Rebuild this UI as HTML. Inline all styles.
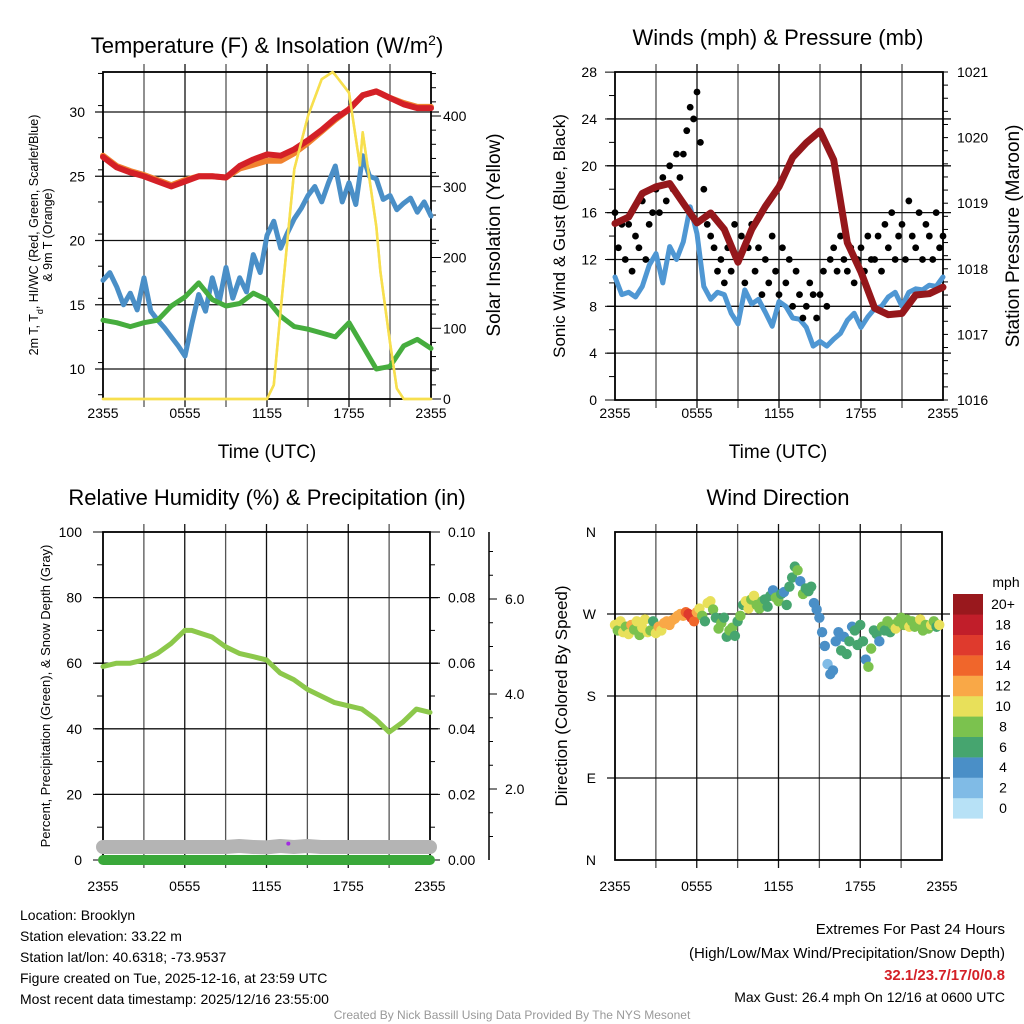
<!DOCTYPE html>
<html><head><meta charset="utf-8"><style>
html,body{margin:0;padding:0;background:#fff;}
svg{display:block;font-family:"Liberation Sans",Arial,sans-serif;}
</style></head><body>
<svg id="c" width="1024" height="1024" viewBox="0 0 1024 1024" xmlns="http://www.w3.org/2000/svg"></svg>
<script>
// ---------- data ----------
const hourTicks = ["2355","0555","1155","1755","2355"];
const tempRed = [26.5,25.7,25.3,25.0,24.6,24.2,24.6,25.0,25.0,24.9,25.8,26.3,26.7,26.6,27.1,27.8,28.6,29.5,30.2,31.3,31.6,31.1,30.6,30.3,30.3];
const temp9mOrange = [26.6,25.8,25.4,25.1,24.7,24.3,24.7,25.0,25.0,24.9,25.6,25.9,26.2,26.2,26.8,27.6,28.5,29.4,30.2,31.3,31.6,31.1,30.7,30.4,30.4];
const dewBlue = [16.9,17.5,16.4,15.0,15.9,14.6,17.1,14.5,13.8,13.2,12.5,11.8,11.0,13.5,15.8,14.5,17.1,15.2,17.9,15.5,17.1,16.0,18.9,17.5,20.4,21.5,19.4,20.6,21.7,22.5,23.5,24.2,23.0,24.5,25.8,23.0,24.5,22.8,26.6,25.0,24.8,23.2,23.5,22.4,22.9,23.3,22.2,23.0,21.9];
const hiwcGreen = [13.8,13.6,13.3,13.6,13.8,14.9,15.6,16.7,15.4,14.9,15.1,15.9,15.4,14.1,13.3,13.1,12.8,12.5,13.6,11.8,10.0,10.2,11.8,12.3,11.6];
const solarHours = [0,12,12.5,13,14,15,16,16.8,17,18,18.8,19,20,20.3,21,21.5,22,24];
const solarVals =  [0,0,20,126,325,400,452,462,458,433,330,377,244,180,80,15,0,0];
const windBlue = [10.5,9.0,9.2,8.8,9.7,11.5,12.5,10.0,13.1,12.0,13.5,16.5,14.2,9.7,8.6,9.2,9.0,7.4,6.5,9.4,8.2,8.6,7.5,6.3,8.4,8.0,7.0,6.9,6.2,4.6,5.0,4.6,5.2,5.7,6.8,7.4,6.2,7.1,7.8,8.0,8.8,9.2,8.0,9.2,9.5,9.4,9.8,9.7,10.5];
const gustBlack = [16,13,15,12,15,11,14,13,17,12,15,16,18,16,19,17,20,18,21,19,21,23,25,24,26.3,22,18,15,14,13,11,12,10,13,11,15,12,14,10,13,15,11,13,9,12,10,14,11,9,13,10,12,8,11,9,7,8,10,9,7,9,11,8,12,13,11,14,12,11,13,10,12,13,11,14,12,12,14,11,15,13,16,12,14,15,12,17,14,13,16,12,15,14,12,16,13,14];
const pressure = [1018.69,1018.79,1019.15,1019.25,1019.3,1019.0,1018.7,1018.85,1018.6,1018.1,1018.6,1018.95,1019.25,1019.7,1019.92,1020.1,1019.66,1018.4,1017.95,1017.4,1017.3,1017.32,1017.6,1017.62,1017.72];
const rh = [59,60,60,61,63,66,70,70,68,65,63,62,61,57,55,52,50,48,47,46,43,39,42,46,45];
const rhHours = [0,1,2,3,4,5,6,6.5,8,9,10,11,12,13,14,15,16,17,18,19,20,21,22,23,24];
const precip = [0,0,0,0,0,0,0,0,0,0,0,0,0,0,0,0,0,0,0,0,0,0,0,0,0];
const snowDepth = [0.78,0.78,0.78,0.78,0.78,0.78,0.78,0.78,0.78,0.78,0.8,0.78,0.77,0.8,0.78,0.8,0.78,0.78,0.78,0.78,0.78,0.78,0.78,0.78,0.78];
const markerHour = [13.6];
const markerVal = [5];
const dirHours = [0.0,0.2,0.4,0.6,0.8,1.0,1.2,1.4,1.6,1.8,2.0,2.2,2.4,2.6,2.8,3.0,3.2,3.4,3.6,3.8,4.0,4.2,4.4,4.6,4.8,5.0,5.2,5.4,5.6,5.8,6.0,6.2,6.4,6.6,6.8,7.0,7.2,7.4,7.6,7.8,8.0,8.2,8.4,8.6,8.8,9.0,9.2,9.4,9.6,9.8,10.0,10.2,10.4,10.6,10.8,11.0,11.2,11.4,11.6,11.8,12.0,12.2,12.4,12.6,12.8,13.0,13.2,13.4,13.6,13.8,14.0,14.2,14.4,14.6,14.8,15.0,15.2,15.4,15.6,15.8,16.0,16.2,16.4,16.6,16.8,17.0,17.2,17.4,17.6,17.8,18.0,18.2,18.4,18.6,18.8,19.0,19.2,19.4,19.6,19.8,20.0,20.2,20.4,20.6,20.8,21.0,21.2,21.4,21.6,21.8,22.0,22.2,22.4,22.6,22.8,23.0,23.2,23.4,23.6,23.8];
const dirDeg = [258,252,262,250,256,248,258,253,262,247,255,264,250,252,262,249,256,252,260,262,258,263,265,268,270,268,272,270,266,262,272,276,268,262,282,284,275,266,254,260,266,245,252,255,246,262,268,280,284,276,286,290,280,276,284,286,278,290,296,288,284,292,294,280,300,310,322,318,306,292,298,295,300,282,275,266,250,235,215,204,208,240,250,230,245,226,240,256,252,236,258,240,220,212,232,252,248,240,256,252,262,250,258,254,262,266,258,264,256,262,256,260,264,252,258,254,258,262,256,258];
const dirSpeed = [10,9,10,11,8,10,12,8,10,9,11,10,10,8,7,10,12,11,13,12,12,13,12,13,12,13,14,16,17,15,12,11,8,7,10,10,9,7,8,8,6,6,8,8,7,7,8,7,10,10,8,10,8,8,9,7,6,6,5,8,8,7,5,6,6,6,7,8,5,8,6,7,6,4,4,5,4,4,3,4,4,4,5,6,5,6,6,4,6,6,6,7,4,8,8,7,6,4,8,6,8,7,8,10,9,8,9,8,10,8,8,9,10,8,9,8,11,8,7,10];
const speedColors = ["#b7e1f6","#80bbe6","#4a8fc7","#46a56f","#7bc24e","#e8e05a","#f9a847","#f0662b","#df3a2d","#c11e2a","#99181d"];
const speedLabels = ["0","2","4","6","8","10","12","14","16","18","20+"];

// ---------- helpers ----------
const svg = document.getElementById('c');
const NS = "http://www.w3.org/2000/svg";
function mk(tag, attrs, parent){const e=document.createElementNS(NS,tag);for(const k in attrs)e.setAttribute(k,attrs[k]);(parent||svg).appendChild(e);return e;}
function txt(x,y,s,size,anchor,extra){const e=mk('text',Object.assign({x:x,y:y,'font-size':size,'text-anchor':anchor||'middle',fill:'#000'},extra||{}));e.textContent=s;return e;}
function hourIdx(n,step){const a=[];for(let i=0;i<n;i++)a.push(i*step);return a;}

function panelFrame(x0,x1,y0,y1,yTicks,yMap,name){
  const g=mk('g',{});
  
  
  for(let h=3;h<24;h+=3){const x=x0+(x1-x0)*h/24;mk('line',{x1:x,y1:y0-8,x2:x,y2:y1+8,stroke:(h%6? '#555':'#111'),'stroke-width':1.3},g);}
  yTicks.forEach(v=>{const y=yMap(v);mk('line',{x1:x0-8,y1:y,x2:x1+8,y2:y,stroke:'#111','stroke-width':1.3},g);});
  mk('rect',{x:x0,y:y0,width:x1-x0,height:y1-y0,fill:'none',stroke:'#000','stroke-width':1.8},g);
  return g;
}
function xLabels(x0,x1,y){hourTicks.forEach((t,i)=>{const l=txt(x0+(x1-x0)*i/4,y,t,14);});}
function polyline(hours,vals,xm,ym,color,w,name){
  const pts=hours.map((h,i)=>xm(h).toFixed(1)+','+ym(vals[i]).toFixed(1)).join(' ');
  const p=mk('polyline',{points:pts,fill:'none',stroke:color,'stroke-width':w,'stroke-linejoin':'round','stroke-linecap':'round'});
  
  
  return p;
}

// ================= Panel 1 =================
const p1x=h=>103+328*h/24, p1y=v=>112+(30-v)*12.85, p1r=v=>399-v*0.7075;
panelFrame(103,431,72,399,[10,15,20,25,30],p1y,'temperature-panel');
for(let v=8;v<=33;v+=2.5){mk('line',{x1:103,y1:p1y(v),x2:98,y2:p1y(v),stroke:'#000'});}
for(let v=0;v<=460;v+=20){mk('line',{x1:431,y1:p1r(v),x2:(v%100?436:441),y2:p1r(v),stroke:'#000'});}
[10,15,20,25,30].forEach(v=>txt(85,p1y(v)+5,String(v),14,'end'));
[0,100,200,300,400].forEach(v=>txt(443,p1r(v)+5,String(v),14,'start'));
polyline(solarHours,solarVals,p1x,p1r,'#f7df4e',2.5,'solar-insolation-line');
polyline(hourIdx(25,1),temp9mOrange,p1x,p1y,'#f0822f',6,'9m-temp-line');
polyline(hourIdx(25,1),tempRed,p1x,p1y,'#d42027',6,'2m-temp-line');
polyline(hourIdx(49,0.5),dewBlue,p1x,p1y,'#4a8fc7',5,'dewpoint-line');
polyline(hourIdx(25,1),hiwcGreen,p1x,p1y,'#46ad3e',5,'heat-index-windchill-line');
polyline(solarHours,solarVals,p1x,p1r,'#f7df4e',2.5,'solar-insolation-line-top');
xLabels(103,431,418);
let t=txt(267,53,'',22);t.innerHTML='Temperature (F) &amp; Insolation (W/m<tspan baseline-shift="super" font-size="14">2</tspan>)';

txt(267,458,'Time (UTC)',19);
t=txt(0,0,'',12.5,'middle',{transform:'translate(38,235) rotate(-90)'});t.innerHTML='2m T, T<tspan baseline-shift="sub" font-size="9">d</tspan>, HI/WC (Red, Green, Scarlet/Blue)';

txt(0,0,'& 9m T (Orange)',12.5,'middle',{transform:'translate(52,235) rotate(-90)'});
t=txt(0,0,'Solar Insolation (Yellow)',19,'middle',{transform:'translate(500,235) rotate(-90)'});


// ================= Panel 2 =================
const p2x=h=>615+328*h/24, p2y=v=>400-v*11.71, p2r=v=>400-(v-1016)*65.6;
panelFrame(615,943,72,400,[4,8,12,16,20,24],p2y,'winds-panel');
for(let v=0;v<=28;v+=2){mk('line',{x1:615,y1:p2y(v),x2:(v%4?609:605),y2:p2y(v),stroke:'#000'});}
for(let v=1016;v<=1021.01;v+=0.2){mk('line',{x1:943,y1:p2r(v),x2:948,y2:p2r(v),stroke:'#000'});}
[0,4,8,12,16,20,24,28].forEach(v=>txt(597,p2y(v)+5,String(v),14,'end'));
[1016,1017,1018,1019,1020,1021].forEach(v=>txt(957,p2r(v)+5,String(v),14,'start'));
polyline(hourIdx(49,0.5),windBlue,p2x,p2y,'#4f97d3',5,'sonic-wind-line');
gustBlack.forEach((v,i)=>{const c=mk('circle',{cx:p2x(i*0.25),cy:p2y(v),r:3.4,fill:'#000'});
  
  });
polyline(hourIdx(25,1),pressure,p2x,p2r,'#95171b',7,'pressure-line');
xLabels(615,943,418);
t=txt(778,45,'Winds (mph) & Pressure (mb)',22);
txt(778,458,'Time (UTC)',19);
t=txt(0,0,'Sonic Wind & Gust (Blue, Black)',17,'middle',{transform:'translate(565,236) rotate(-90)'});
t=txt(0,0,'Station Pressure (Maroon)',19,'middle',{transform:'translate(1019,236) rotate(-90)'});

// ================= Panel 3 =================
const p3x=h=>103+327*h/24, p3y=v=>860-v*3.28, p3p=v=>860-v*3280, p3s=v=>884-v*47.5;
panelFrame(103,430,532,860,[20,40,60,80],p3y,'humidity-panel');
for(let v=0;v<=100;v+=10){mk('line',{x1:103,y1:p3y(v),x2:(v%20?97:93),y2:p3y(v),stroke:'#000'});mk('line',{x1:430,y1:p3y(v),x2:(v%20?435:440),y2:p3y(v),stroke:'#000'});}
[0,20,40,60,80,100].forEach(v=>txt(82,p3y(v)+5,String(v),14,'end'));
[0,0.02,0.04,0.06,0.08,0.10].forEach(v=>txt(448,p3p(v)+5,v.toFixed(2),14,'start'));
mk('line',{x1:489,y1:532,x2:489,y2:860,stroke:'#000','stroke-width':1.5});
for(let v=0.5;v<=7.4;v+=0.5){const y=p3s(v);if(y<860&&y>532)mk('line',{x1:489,y1:y,x2:(v%2?493:497),y2:y,stroke:'#000'});}
[2,4,6].forEach(v=>txt(505,p3s(v)+5,v.toFixed(1),14,'start'));
polyline(hourIdx(25,1),snowDepth,p3x,p3s,'#b4b4b4',14,'snow-depth-line');
polyline(hourIdx(25,1),precip,p3x,p3p,'#3aa83a',10,'precipitation-line');
polyline(rhHours,rh,p3x,p3y,'#8cc84b',5,'relative-humidity-line');
markerHour.forEach((h,i)=>{const c=mk('circle',{cx:p3x(h),cy:p3y(markerVal[i]),r:2,fill:'#a22be2'});
  
  });
xLabels(103,430,891);
t=txt(267,505,'Relative Humidity (%) & Precipitation (in)',22);
t=txt(0,0,'Percent, Precipitation (Green), & Snow Depth (Gray)',13,'middle',{transform:'translate(50,696) rotate(-90)'});

// ================= Panel 4 =================
const p4x=h=>615+327*h/24, p4y=d=>860-d*328/360;
panelFrame(615,942,532,860,[90,180,270],p4y,'wind-direction-panel');
[['N',0],['E',90],['S',180],['W',270],['N',360]].forEach(a=>txt(596,p4y(a[1])+5,a[0],14,'end'));
dirHours.forEach((h,i)=>{const ci=Math.min(10,Math.floor(dirSpeed[i]/2));
  const c=mk('circle',{cx:p4x(h),cy:p4y(dirDeg[i]),r:5.2,fill:speedColors[ci]});
  
  });
xLabels(615,942,891);
t=txt(778,505,'Wind Direction',22);
t=txt(0,0,'Direction (Colored By Speed)',17,'middle',{transform:'translate(567,696) rotate(-90)'});
// colorbar
speedColors.forEach((c,i)=>{const y=594+(10-i)*20.4;const r=mk('rect',{x:953,y:y,width:30,height:20.6,fill:c});
  
  
  txt(1003,y+15,speedLabels[i],14);});
txt(1006,587,'mph',14);

// ================= Text =================
['Location: Brooklyn','Station elevation: 33.22 m','Station lat/lon: 40.6318; -73.9537','Figure created on Tue, 2025-12-16, at 23:59 UTC','Most recent data timestamp: 2025/12/16 23:55:00'].forEach((s,i)=>{const e=txt(20,920+i*21,s,14,'start');});
txt(1005,934,'Extremes For Past 24 Hours',15,'end');
txt(1005,958,'(High/Low/Max Wind/Precipitation/Snow Depth)',15,'end');
t=txt(1005,980,'32.1/23.7/17/0/0.8',15,'end',{fill:'#d42027','font-weight':'bold'});
txt(1005,1002,'Max Gust: 26.4 mph On 12/16 at 0600 UTC',14,'end');
t=txt(512,1019,'Created By Nick Bassill Using Data Provided By The NYS Mesonet',12,'middle',{fill:'#999'});
</script>
</body></html>
